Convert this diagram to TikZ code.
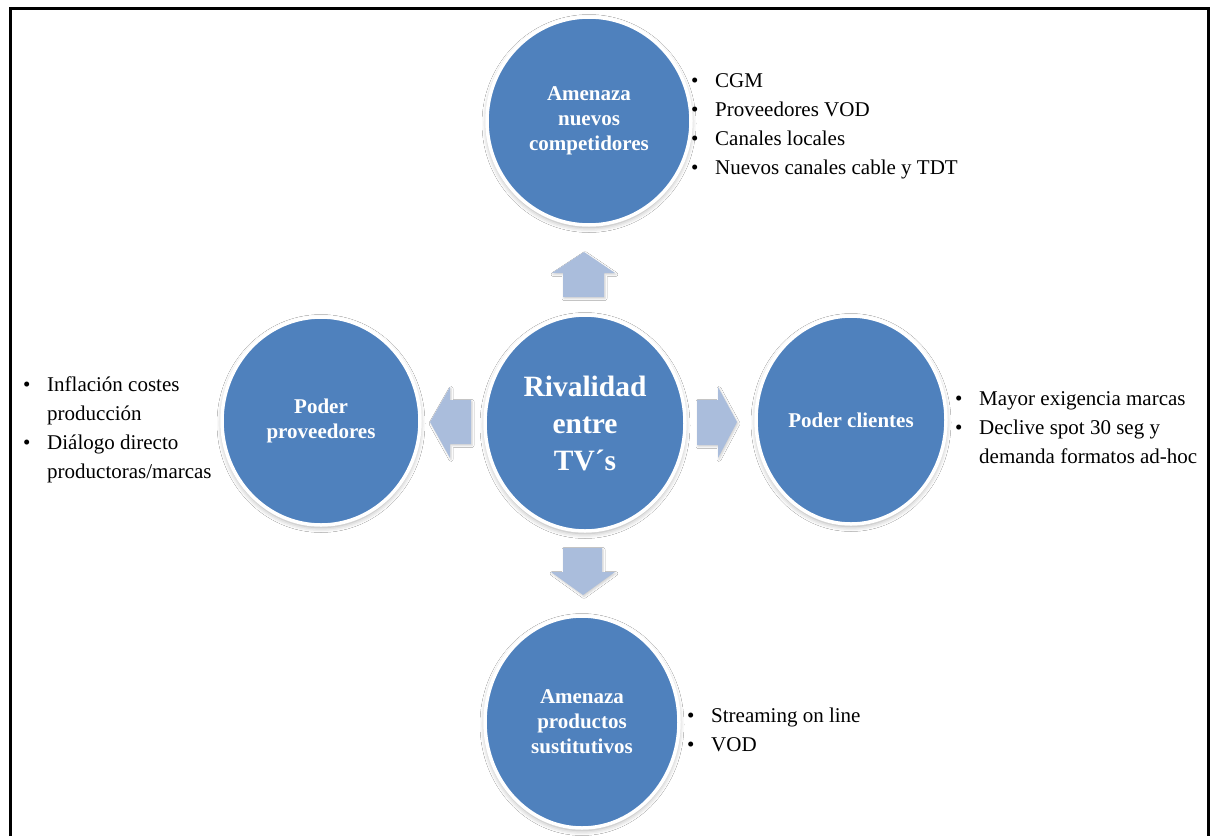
\documentclass[tikz,border=0pt]{standalone}
\usepackage{fontspec}
\setmainfont{Liberation Serif}
\usetikzlibrary{shapes.geometric,shadows.blur}
\definecolor{forceblue}{HTML}{4F81BD}
\definecolor{arrowblue}{HTML}{AABDDC}
\begin{document}
\begin{tikzpicture}[x=1pt,y=-1pt,
  force/.style={ellipse, fill=forceblue, draw=white, line width=3.5pt,
    text=white, font=\bfseries\fontsize{21}{25}\selectfont, align=center,
    inner sep=0pt,
    blur shadow={shadow xshift=0pt, shadow yshift=-2.5pt, shadow blur radius=5pt, shadow opacity=35}},
  bigforce/.style={force, font=\bfseries\fontsize{29.5}{37}\selectfont},
  blockarrow/.style={fill=arrowblue,
    blur shadow={shadow xshift=1pt, shadow yshift=-1.5pt, shadow blur radius=2pt, shadow opacity=20}},
  itemlist/.style={anchor=base west, inner sep=0pt, font=\fontsize{21}{29}\selectfont},
]
\useasboundingbox (0,0) rectangle (1211,836);
\fill[white] (0,0) rectangle (1211,836);

% outer frame, open at the bottom
\draw[line width=3pt] (10,836) -- (10,8) -- (1208,8) -- (1208,836);

% the five forces
\node[force, minimum width=204pt, minimum height=208pt] (entrants) at (589,121)
  {Amenaza\\nuevos\\competidores};
\node[bigforce, minimum width=200pt, minimum height=216pt] (rivalry) at (585,423)
  {Rivalidad\\entre\\TV´s};
\node[force, minimum width=198pt, minimum height=208pt] (suppliers) at (321,421)
  {Poder\\proveedores};
\node[force, minimum width=190pt, minimum height=208pt] (buyers) at (851,420)
  {Poder clientes};
\node[force, minimum width=194pt, minimum height=212pt] (substitutes) at (582,722)
  {Amenaza\\productos\\sustitutivos};

% block arrows pointing outwards from the centre
\fill[blockarrow] (563,297) -- (563,273) -- (552,273) -- (584,252) -- (615,273) -- (604,273) -- (604,297) -- cycle;
\fill[blockarrow] (563,548) -- (602,548) -- (602,572) -- (615,572) -- (583,595) -- (551,572) -- (563,572) -- cycle;
\fill[blockarrow] (697,400) -- (718,400) -- (718,387) -- (737,422) -- (718,458) -- (718,445) -- (697,445) -- cycle;
\fill[blockarrow] (471,400) -- (450,400) -- (450,387) -- (430,422) -- (450,458) -- (450,444) -- (471,444) -- cycle;

% bullet lists
\node[itemlist] (entrantslist) at (691,87) {%
  \begin{tabular}[t]{@{}p{24pt}@{}l@{}}
  \textbullet & CGM\\
  \textbullet & Proveedores VOD\\
  \textbullet & Canales locales\\
  \textbullet & Nuevos canales cable y TDT
  \end{tabular}};
\node[itemlist] (supplierslist) at (23,391) {%
  \begin{tabular}[t]{@{}p{24pt}@{}l@{}}
  \textbullet & Inflación costes\\
   & producción\\
  \textbullet & Diálogo directo\\
   & productoras/marcas
  \end{tabular}};
\node[itemlist] (buyerslist) at (955,405) {%
  \begin{tabular}[t]{@{}p{24pt}@{}l@{}}
  \textbullet & Mayor exigencia marcas\\
  \textbullet & Declive spot 30 seg y\\
   & demanda formatos ad-hoc
  \end{tabular}};
\node[itemlist] (substituteslist) at (687,722) {%
  \begin{tabular}[t]{@{}p{24pt}@{}l@{}}
  \textbullet & Streaming on line\\
  \textbullet & VOD
  \end{tabular}};
\end{tikzpicture}
\end{document}
